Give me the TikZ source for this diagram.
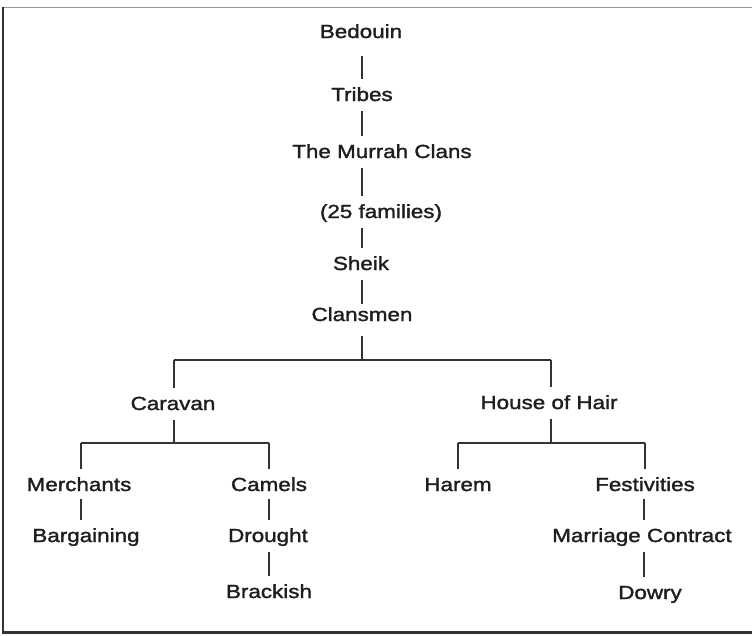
\documentclass[tikz,border=0pt]{standalone}
\usepackage{fontspec}
\setmainfont[FakeStretch=1.18,FakeBold=1.6]{Liberation Sans}
\usetikzlibrary{calc}
\definecolor{ink}{HTML}{1E1E1E}
\definecolor{rule}{HTML}{333333}
\begin{document}
\begin{tikzpicture}[x=1pt,y=-1pt,
  lbl/.style={anchor=base,font=\fontsize{19}{22}\selectfont,text=ink,
    text height=21.8pt,text depth=10.2pt,inner ysep=0pt,inner xsep=0pt},
  link/.style={draw=rule,line width=1.5pt},
  frameline/.style={line width=2.4pt,draw=black!80}]
\useasboundingbox (0,0) rectangle (752,635);
% frame
\draw[line width=0.9pt,draw=black!40] (3,7) -- (752,7);
\draw[frameline] (3,7) -- (3,632.5) -- (752,632.5);

% trunk
\node[lbl] (bed) at (361,38) {Bedouin};
\node[lbl] (tri) at (362,101) {Tribes};
\node[lbl] (mur) at (382,158) {The Murrah Clans};
\node[lbl] (fam) at (381,218) {(25 families)};
\node[lbl] (she) at (361,270) {Sheik};
\node[lbl] (cla) at (362,321) {Clansmen};

% second level
\node[lbl] (car) at (173,410) {Caravan};
\node[lbl] (hoh) at (549,409) {House of Hair};

% caravan branch
\node[lbl] (mer) at (79,491) {Merchants};
\node[lbl] (bar) at (86,542) {Bargaining};
\node[lbl] (cam) at (269,491) {Camels};
\node[lbl] (dro) at (268,542) {Drought};
\node[lbl] (bra) at (269,598) {Brackish};

% house of hair branch
\node[lbl] (har) at (458,491) {Harem};
\node[lbl] (fes) at (645,491) {Festivities};
\node[lbl] (mar) at (642,542) {Marriage Contract};
\node[lbl] (dow) at (650,599) {Dowry};

% junctions of the bracket lines
\coordinate (j1) at (362,360);
\coordinate (j2) at (174,443);
\coordinate (j3) at (551,443);

% trunk connectors
\draw[link,shorten <=8pt] (tri.north |- bed.south) -- (tri.north);
\draw[link] (tri.south) -- (tri.south |- mur.north);
\draw[link] (tri.south |- mur.south) -- (tri.south |- fam.north);
\draw[link] (tri.south |- fam.south) -- (tri.south |- she.north);
\draw[link,shorten >=-5pt] (tri.south |- she.south) -- (tri.south |- cla.north);
\draw[link,shorten <=5pt] (cla.south) -- (j1);
\draw[link] (j1 -| j2) -- (j1 -| j3);
\draw[link] (j1 -| j2) -- (j2 |- car.north);
\draw[link] (j1 -| j3) -- (j3 |- hoh.north);

% caravan connectors
\draw[link] (j2 |- car.south) -- (j2);
\draw[link] ($(j2 -| mer.north)+(2,0)$) -- (j2 -| cam.north);
\draw[link] ($(j2 -| mer.north)+(2,0)$) -- ($(mer.north)+(2,0)$);
\draw[link] (j2 -| cam.north) -- (cam.north);
\draw[link] ($(mer.south)+(2,-2)$) -- ($(mer.south |- bar.north)+(2,0)$);
\draw[link] ($(cam.south)+(0,-2)$) -- (cam.south |- dro.north);
\draw[link] (cam.south |- dro.south) -- (cam.south |- bra.north);

% house of hair connectors
\draw[link] (j3 |- hoh.south) -- (j3);
\draw[link] (j3 -| har.north) -- (j3 -| fes.north);
\draw[link] (j3 -| har.north) -- (har.north);
\draw[link] (j3 -| fes.north) -- (fes.north);
\draw[link] ($(fes.south)+(-1,-2)$) -- ($(fes.south |- mar.north)+(-1,0)$);
\draw[link] ($(fes.south |- mar.south)+(-1,0)$) -- ($(fes.south |- dow.north)+(-1,0)$);
\end{tikzpicture}
\end{document}
